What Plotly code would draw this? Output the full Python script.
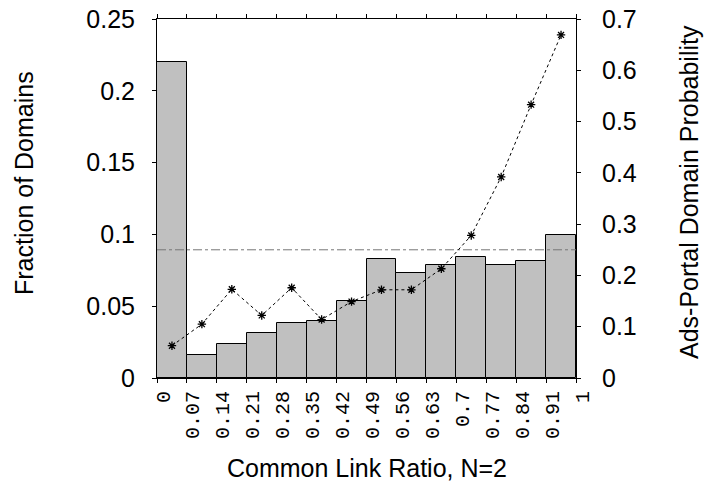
import plotly.graph_objects as go

# ---- data ----
bin_edges_labels = ["0", "0.07", "0.14", "0.21", "0.28", "0.35", "0.42", "0.49",
                    "0.56", "0.63", "0.7", "0.77", "0.84", "0.91", "1"]
fraction_of_domains = [0.220, 0.016, 0.024, 0.031, 0.038, 0.040, 0.0536, 0.0826,
                       0.0729, 0.0785, 0.084, 0.0787, 0.0812, 0.0998]
ads_portal_prob = [0.063, 0.105, 0.173, 0.122, 0.176, 0.114, 0.149, 0.172,
                   0.172, 0.213, 0.278, 0.392, 0.533, 0.669]
overall_prob = 0.25

nbins = len(fraction_of_domains)
width = 1.0 / nbins
centers = [(i + 0.5) * width for i in range(nbins)]
tickvals = [i * width for i in range(nbins + 1)]

FONT = "Liberation Sans"
FS = 25

fig = go.Figure()
fig.add_trace(go.Bar(
    x=centers, y=fraction_of_domains, width=width,
    marker=dict(color="#c0c0c0", line=dict(color="black", width=1)),
    yaxis="y", showlegend=False,
))
fig.add_trace(go.Scatter(
    x=[0, 1], y=[overall_prob, overall_prob], mode="lines",
    line=dict(color="#777777", width=1, dash="dashdot"),
    yaxis="y2", showlegend=False,
))
fig.add_trace(go.Scatter(
    x=centers, y=ads_portal_prob, mode="lines+markers",
    line=dict(color="black", width=1, dash="dot"),
    marker=dict(symbol="asterisk-open", size=7, color="black",
                line=dict(color="black", width=1.3)),
    yaxis="y2", showlegend=False,
))

fig.update_layout(
    width=706, height=492,
    margin=dict(l=157, r=130, t=19, b=114),
    plot_bgcolor="white", paper_bgcolor="white",
    font=dict(family=FONT, size=FS, color="black"),
    bargap=0,
    xaxis=dict(
        range=[0, 1], tickvals=tickvals, ticktext=bin_edges_labels,
        tickangle=-90, tickfont=dict(family="Liberation Mono", size=20),
        ticks="outside", ticklen=4, tickcolor="black",
        showline=True, linecolor="black", linewidth=1, mirror="ticks",
        showgrid=False, zeroline=False, ticklabelshift=6, automargin=False,
    ),
    yaxis=dict(
        range=[0, 0.25], tickvals=[0, 0.05, 0.1, 0.15, 0.2, 0.25],
        ticktext=["0", "0.05", "0.1", "0.15", "0.2", "0.25"],
        ticks="outside", ticklen=4, tickcolor="black",
        showline=True, linecolor="black", linewidth=1,
        showgrid=False, zeroline=False, ticklabelstandoff=12, automargin=False,
    ),
    yaxis2=dict(
        range=[0, 0.7], overlaying="y", side="right",
        tickvals=[0, 0.1, 0.2, 0.3, 0.4, 0.5, 0.6, 0.7],
        ticktext=["0", "0.1", "0.2", "0.3", "0.4", "0.5", "0.6", "0.7"],
        ticks="outside", ticklen=4, tickcolor="black",
        showline=True, linecolor="black", linewidth=1,
        showgrid=False, zeroline=False, ticklabelstandoff=16, automargin=False,
    ),
    annotations=[
        dict(text="Fraction of Domains", xref="paper", yref="paper",
             x=(24 - 157) / 419, y=(378 - 183) / 359, xanchor="center", yanchor="middle",
             textangle=-90, showarrow=False, font=dict(family=FONT, size=FS)),
        dict(text="Ads-Portal Domain Probability", xref="paper", yref="paper",
             x=(689 - 157) / 419, y=(378 - 192) / 359, xanchor="center", yanchor="middle",
             textangle=-90, showarrow=False, font=dict(family=FONT, size=FS)),
        dict(text="Common Link Ratio, N=2", xref="paper", yref="paper",
             x=(367 - 157) / 419, y=(378 - 468) / 359, xanchor="center", yanchor="middle",
             showarrow=False, font=dict(family=FONT, size=FS)),
    ],
)

fig.write_html("out.html", config={"displayModeBar": False},
               post_script="document.body.style.margin='0';")
